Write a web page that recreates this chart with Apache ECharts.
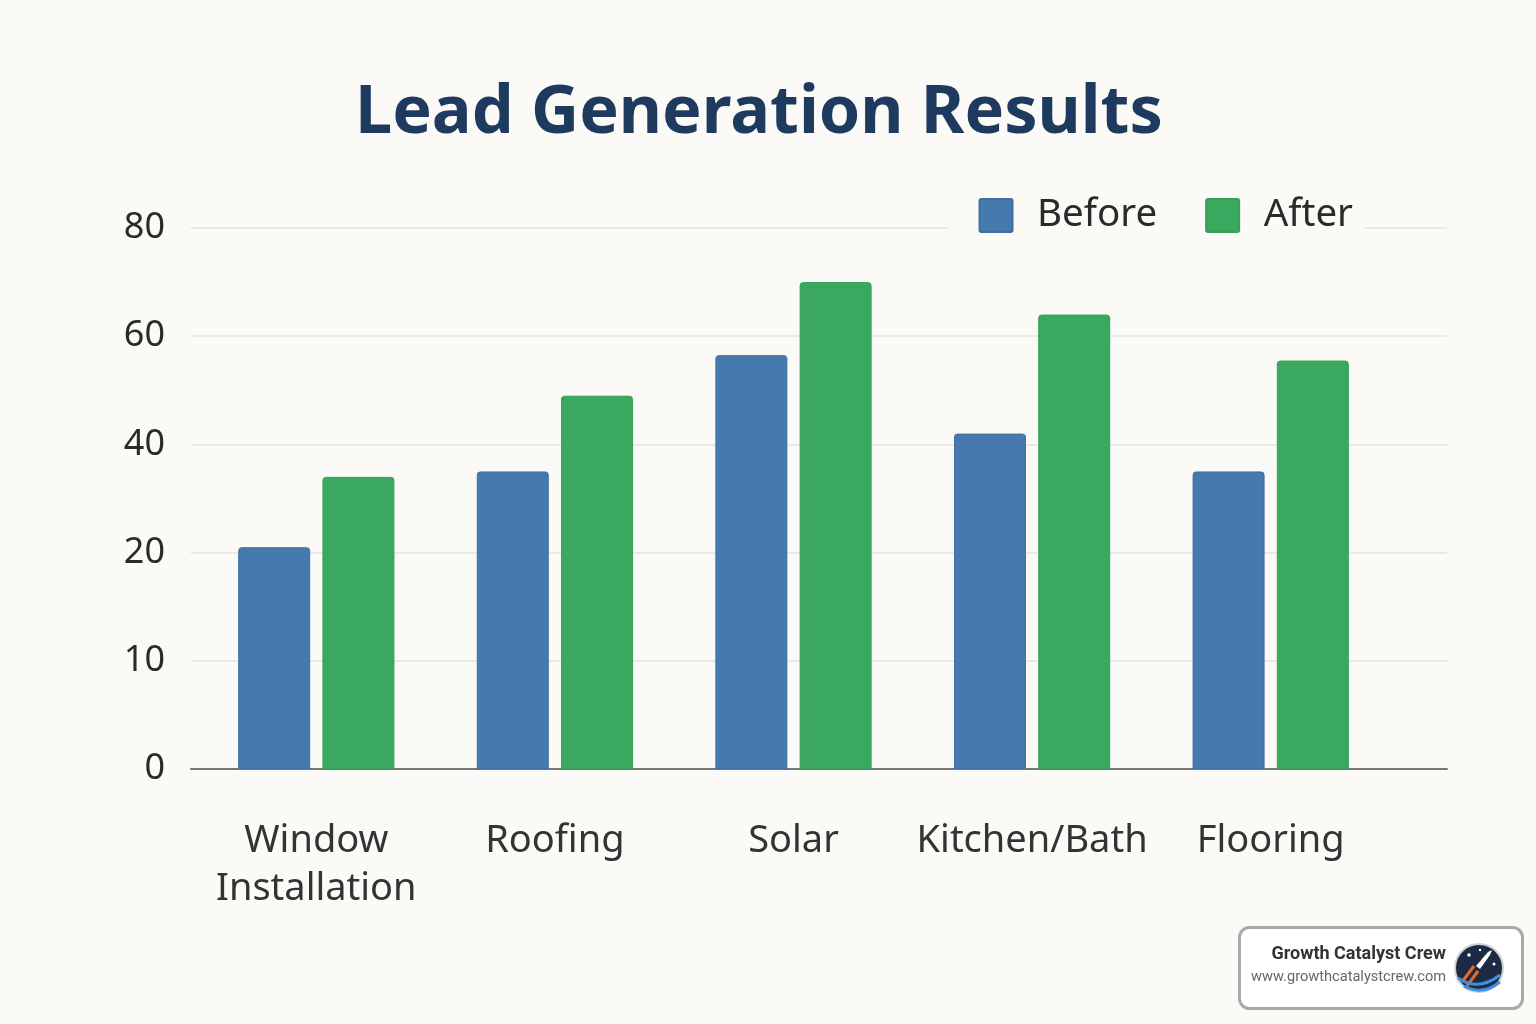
<!DOCTYPE html>
<html><head><meta charset="utf-8">
<script src="https://cdn.jsdelivr.net/npm/echarts@6/dist/echarts.min.js"></script>
<style>html,body{margin:0;padding:0;background:#fcfaf6}#c{width:1536px;height:1024px}</style>
</head><body><div id="c"></div>
<script>
const categories = ['Window\nInstallation', 'Roofing', 'Solar', 'Kitchen/Bath', 'Flooring'];
const beforeValues = [21, 35, 56.5, 42, 35];
const afterValues = [34, 49, 70, 64, 55.5];
const yTicks = [0, 10, 20, 40, 60, 80];
const seriesNames = ['Before', 'After'];

// Axis in the picture is evenly spaced with ticks 0,10,20,40,60,80: map a value to its tick-index position
function toAxis(v) {
  for (let i = 1; i < yTicks.length; i++) {
    if (v <= yTicks[i]) return (i - 1) + (v - yTicks[i - 1]) / (yTicks[i] - yTicks[i - 1]);
  }
  return yTicks.length - 1;
}

const BG = '#fcfaf6';
const FONT = 'Noto Sans';
const chart = echarts.init(document.getElementById('c'));
chart.setOption({
  backgroundColor: BG,
  animation: false,
  textStyle: { fontFamily: FONT },
  title: {
    text: 'Lead Generation Results', left: 350, top: 76,
    textStyle: { fontSize: 66.5, fontWeight: 'bold', color: '#1e3a5f', fontFamily: FONT }
  },
  legend: {
    data: seriesNames, right: 171, top: 190, z: 10,
    backgroundColor: BG, padding: [6, 12, 8, 30],
    itemWidth: 34, itemHeight: 33, itemGap: 48,
    icon: 'path://M2,0H31A2,2 0 0 1 33,2V31A2,2 0 0 1 31,33H2A2,2 0 0 1 0,31V2A2,2 0 0 1 2,0Z',
    textStyle: { fontSize: 38.5, color: '#2a2a2a', fontFamily: FONT, padding: [0, 0, 0, 19] }
  },
  grid: [
    { left: 191, right: 89, top: 228, bottom: 255 },
    { left: 197, right: 146, top: 228, bottom: 255 }
  ],
  xAxis: [
    { gridIndex: 0, type: 'value', min: 0, max: 1, axisLabel: { show: false }, axisTick: { show: false },
      splitLine: { show: false }, axisLine: { show: true, onZero: false, lineStyle: { color: '#777', width: 2 } } },
    { gridIndex: 1, type: 'category', data: categories, axisLine: { show: false }, axisTick: { show: false },
      axisLabel: { interval: 0, margin: 48, fontSize: 38, lineHeight: 48, color: '#333', fontFamily: FONT } }
  ],
  yAxis: [
    { gridIndex: 0, type: 'value', min: 0, max: yTicks.length - 1, interval: 1,
      axisLine: { show: false }, axisTick: { show: false },
      axisLabel: { fontSize: 36, color: '#2a2a2a', margin: 26, fontFamily: FONT, formatter: v => String(yTicks[v]) },
      splitLine: { lineStyle: { color: '#e3e3e1', width: 1.5 } } },
    { gridIndex: 1, type: 'value', min: 0, max: yTicks.length - 1, interval: 1, show: false, splitLine: { show: false } }
  ],
  series: [
    { name: seriesNames[0], type: 'bar', xAxisIndex: 1, yAxisIndex: 1, barWidth: 72, barGap: '17%',
      data: beforeValues.map(toAxis),
      itemStyle: { color: '#4679ad', borderColor: '#3f6fa3', borderWidth: 1, borderRadius: [3, 3, 0, 0] } },
    { name: seriesNames[1], type: 'bar', xAxisIndex: 1, yAxisIndex: 1, barWidth: 72, barGap: '17%',
      data: afterValues.map(toAxis),
      itemStyle: { color: '#3aa85e', borderColor: '#36a058', borderWidth: 1, borderRadius: [3, 3, 0, 0] } }
  ],
  graphic: [
    { type: 'rect', left: 1238, top: 926, z: 20,
      shape: { width: 283, height: 81, r: 10 },
      style: { fill: '#ffffff', stroke: '#a9a9a9', lineWidth: 3 } },
    { type: 'text', z: 21, x: 1446, y: 954,
      style: { text: 'Growth Catalyst Crew', fill: '#333', font: 'bold 18px Roboto', textAlign: 'right', textVerticalAlign: 'middle' } },
    { type: 'text', z: 21, x: 1446, y: 977,
      style: { text: 'www.growthcatalystcrew.com', fill: '#666', font: '14.6px Roboto', textAlign: 'right', textVerticalAlign: 'middle' } },
    { type: 'circle', z: 21, shape: { cx: 1479, cy: 968, r: 24 },
      style: { fill: '#1c2a44', stroke: '#d0d0d0', lineWidth: 2 } },
    { type: 'polyline', z: 22, shape: { points: [[1462, 982], [1474, 966]] }, style: { stroke: '#e8692a', lineWidth: 3 } },
    { type: 'polyline', z: 22, shape: { points: [[1467, 986], [1478, 971]] }, style: { stroke: '#e8692a', lineWidth: 3 } },
    { type: 'bezierCurve', z: 22, shape: { x1: 1458, y1: 978, x2: 1500, y2: 975, cpx1: 1478, cpy1: 992 }, style: { stroke: '#3f8fe0', lineWidth: 3, fill: 'none' } },
    { type: 'bezierCurve', z: 22, shape: { x1: 1464, y1: 986, x2: 1500, y2: 982, cpx1: 1482, cpy1: 996 }, style: { stroke: '#3f8fe0', lineWidth: 3, fill: 'none' } },
    { type: 'polygon', z: 22, shape: { points: [[1476, 966], [1488, 952], [1492, 950], [1490, 955], [1480, 969]] }, style: { fill: '#ffffff' } },
    { type: 'circle', z: 22, shape: { cx: 1469, cy: 955, r: 1.8 }, style: { fill: '#fff' } },
    { type: 'circle', z: 22, shape: { cx: 1494, cy: 964, r: 1.5 }, style: { fill: '#fff' } },
    { type: 'circle', z: 22, shape: { cx: 1480, cy: 950, r: 1.2 }, style: { fill: '#fff' } }
  ]
});
</script>
</body></html>
